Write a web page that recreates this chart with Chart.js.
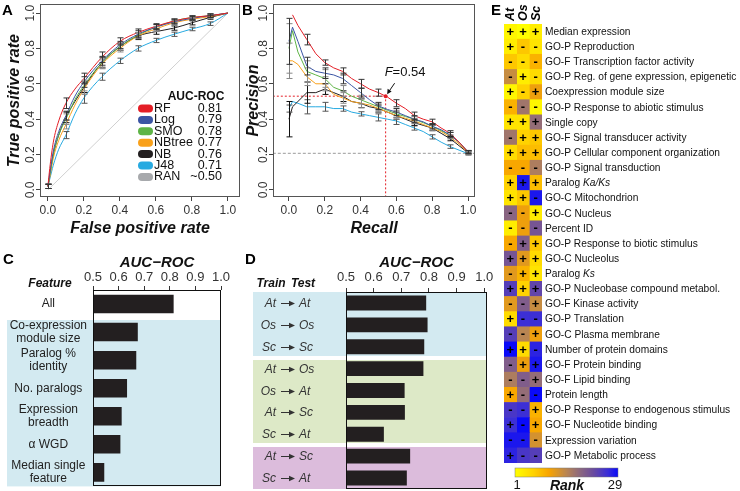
<!DOCTYPE html>
<html>
<head>
<meta charset="utf-8">
<title>Classifier performance</title>
<script src="https://cdn.jsdelivr.net/npm/chart.js@4.4.1/dist/chart.umd.min.js"></script>
<style>
  html, body { margin: 0; padding: 0; background: #fff; }
  #page { position: relative; width: 740px; height: 491px; overflow: hidden; }
  #page canvas { position: absolute; }
  .tag { position: absolute; font: bold 15px "Liberation Sans", Arial, sans-serif; line-height: 15px; color: #000; }
</style>
</head>
<body>
<div id="page">
  <canvas id="rocChart" width="245" height="240" style="left:0;top:0;width:245px;height:240px"></canvas>
  <canvas id="prChart" width="255" height="240" style="left:240px;top:0;width:255px;height:240px"></canvas>
  <canvas id="featChart" width="250" height="246" style="left:0;top:245px;width:250px;height:246px"></canvas>
  <canvas id="transferChart" width="250" height="246" style="left:250px;top:245px;width:250px;height:246px"></canvas>
  <canvas id="rankChart" width="245" height="491" style="left:495px;top:0;width:245px;height:491px"></canvas>
  <div class="tag" style="left:2px;top:2px">A</div>
  <div class="tag" style="left:242px;top:2px">B</div>
  <div class="tag" style="left:3px;top:251px">C</div>
  <div class="tag" style="left:245px;top:251px">D</div>
  <div class="tag" style="left:491px;top:2px">E</div>
</div>
<script>
var fam = '"Liberation Sans", Arial, Helvetica, sans-serif';

// ---- A: ROC curves ----
var modelNames = ['RF', 'Log', 'SMO', 'NBtree', 'NB', 'J48', 'RAN'];
var modelAuc = ['0.81', '0.79', '0.78', '0.77', '0.76', '0.71', '~0.50'];
var rateTicks = [0, 0.2, 0.4, 0.6, 0.8, 1.0];

var rocX = [0, 0.01, 0.03, 0.06, 0.1, 0.15, 0.2, 0.3, 0.4, 0.5, 0.6, 0.7, 0.8, 0.9, 1.0];
var rocRF = [0.02, 0.12, 0.27, 0.39, 0.49, 0.57, 0.63, 0.75, 0.84, 0.89, 0.925, 0.955, 0.975, 0.985, 1.0];
var rocLog = [0.02, 0.09, 0.22, 0.33, 0.42, 0.53, 0.61, 0.73, 0.82, 0.88, 0.92, 0.95, 0.97, 0.985, 1.0];
var rocSMO = [0.02, 0.08, 0.2, 0.31, 0.40, 0.51, 0.59, 0.72, 0.81, 0.875, 0.92, 0.955, 0.975, 0.985, 1.0];
var rocNBtree = [0.02, 0.07, 0.18, 0.28, 0.37, 0.48, 0.57, 0.71, 0.80, 0.87, 0.91, 0.945, 0.965, 0.98, 1.0];
var rocNB = [0.02, 0.08, 0.2, 0.31, 0.41, 0.5, 0.58, 0.72, 0.81, 0.87, 0.895, 0.915, 0.945, 0.975, 1.0];
var rocJ48 = [0.02, 0.06, 0.14, 0.23, 0.31, 0.43, 0.52, 0.64, 0.73, 0.80, 0.845, 0.88, 0.91, 0.94, 1.0];

var rocErrX = [0, 0.1, 0.2, 0.3, 0.4, 0.5, 0.6, 0.7, 0.8, 0.9];
var rocErrRF = [0.012, 0.03, 0.03, 0.03, 0.02, 0.02, 0.015, 0.012, 0.01, 0.01];
var rocErrLog = [0.012, 0.025, 0.03, 0.025, 0.02, 0.02, 0.015, 0.012, 0.01, 0.01];
var rocErrSMO = [0.012, 0.03, 0.03, 0.025, 0.02, 0.015, 0.015, 0.012, 0.01, 0.01];
var rocErrNBtree = [0.012, 0.025, 0.03, 0.025, 0.02, 0.015, 0.015, 0.012, 0.01, 0.01];
var rocErrNB = [0.012, 0.03, 0.03, 0.03, 0.02, 0.02, 0.015, 0.012, 0.012, 0.01];
var rocErrJ48 = [0.012, 0.02, 0.03, 0.02, 0.015, 0.015, 0.012, 0.012, 0.01, 0.01];

// ---- B: precision / recall ----
var prX = [0, 0.02, 0.05, 0.1, 0.15, 0.2, 0.25, 0.3, 0.35, 0.4, 0.45, 0.5, 0.55, 0.6, 0.65, 0.7, 0.75, 0.8, 0.85, 0.9, 0.95, 1.0];
var prRF = [null, 0.99, 0.93, 0.85, 0.77, 0.72, 0.69, 0.67, 0.63, 0.60, 0.57, 0.55, 0.525, 0.49, 0.46, 0.42, 0.40, 0.385, 0.35, 0.32, 0.27, 0.215];
var prLog = [0.84, 0.92, 0.84, 0.70, 0.67, 0.66, 0.65, 0.63, 0.59, 0.55, 0.51, 0.475, 0.455, 0.44, 0.42, 0.40, 0.385, 0.36, 0.34, 0.31, 0.27, 0.215];
var prSMO = [0.80, 0.90, 0.78, 0.67, 0.65, 0.63, 0.58, 0.56, 0.53, 0.51, 0.49, 0.47, 0.45, 0.43, 0.415, 0.40, 0.38, 0.36, 0.335, 0.31, 0.27, 0.215];
var prNBtree = [0.73, 0.73, 0.71, 0.64, 0.60, 0.60, 0.54, 0.52, 0.50, 0.49, 0.48, 0.46, 0.44, 0.42, 0.405, 0.39, 0.37, 0.35, 0.33, 0.30, 0.26, 0.21];
var prNB = [0.40, 0.47, 0.50, 0.55, 0.55, 0.57, 0.55, 0.53, 0.50, 0.49, 0.47, 0.46, 0.44, 0.42, 0.40, 0.38, 0.365, 0.35, 0.32, 0.29, 0.25, 0.21];
var prJ48 = [0.46, 0.50, 0.49, 0.47, 0.47, 0.47, 0.46, 0.46, 0.44, 0.43, 0.42, 0.41, 0.40, 0.39, 0.37, 0.35, 0.33, 0.30, 0.27, 0.245, 0.225, 0.205];

var prErrX = [0, 0.1, 0.2, 0.3, 0.4, 0.5, 0.6, 0.7, 0.8, 0.9, 1.0];
var prErrRF = [null, 0.03, 0.015, 0.02, 0.025, 0.02, 0.02, 0.02, 0.015, 0.015, 0.008];
var prErrLog = [0.13, 0.05, 0.03, 0.03, 0.025, 0.02, 0.02, 0.02, 0.015, 0.015, 0.008];
var prErrSMO = [0.14, 0.06, 0.05, 0.03, 0.025, 0.02, 0.02, 0.015, 0.015, 0.015, 0.008];
var prErrNBtree = [0.1, 0.05, 0.04, 0.03, 0.025, 0.02, 0.02, 0.015, 0.015, 0.012, 0.008];
var prErrNB = [0.1, 0.06, 0.03, 0.03, 0.025, 0.02, 0.02, 0.015, 0.015, 0.012, 0.008];
var prErrJ48 = [0.02, 0.04, 0.025, 0.015, 0.012, 0.02, 0.02, 0.012, 0.012, 0.01, 0.008];

var baseRate = 0.207;
var bestRecall = 0.54;
var bestPrecision = 0.53;
var bestF = 0.54;

// ---- C: single features ----
var featureLabels = [['All'], ['Co-expression', 'module size'], ['Paralog %', 'identity'], ['No. paralogs'],
  ['Expression', 'breadth'], ['\u03b1 WGD'], ['Median single', 'feature']];
var featureAuc = [0.815, 0.675, 0.669, 0.633, 0.612, 0.607, 0.544];
var aucTicks = [0.5, 0.6, 0.7, 0.8, 0.9, 1.0];

// ---- D: cross-species ----
var trainSp = ['At', 'Os', 'Sc', 'At', 'Os', 'At', 'Sc', 'At', 'Sc'];
var testSp = ['At', 'Os', 'Sc', 'Os', 'At', 'Sc', 'At', 'Sc', 'At'];
var transferAuc = [0.79, 0.795, 0.783, 0.78, 0.712, 0.713, 0.637, 0.732, 0.72];
var transferGroup = [0, 0, 0, 1, 1, 1, 1, 2, 2];

// ---- E: feature ranks ----
var species = ['At', 'Os', 'Sc'];
var featureNames = ['Median expression', 'GO-P Reproduction', 'GO-F Transcription factor activity',
  'GO-P Reg. of gene expression, epigenetic', 'Coexpression module size', 'GO-P Response to abiotic stimulus',
  'Single copy', 'GO-F Signal transducer activity', 'GO-P Cellular component organization',
  'GO-P Signal transduction', 'Paralog _Ka/Ks_', 'GO-C Mitochondrion', 'GO-C Nucleus', 'Percent ID',
  'GO-P Response to biotic stimulus', 'GO-C Nucleolus', 'Paralog _Ks_', 'GO-P Nucleobase compound metabol.',
  'GO-F Kinase activity', 'GO-P Translation', 'GO-C Plasma membrane', 'Number of protein domains',
  'GO-F Protein binding', 'GO-F Lipid binding', 'Protein length', 'GO-P Response to endogenous stimulus',
  'GO-F Nucleotide binding', 'Expression variation', 'GO-P Metabolic process'];
var rankAt = [2, 3, 7, 14, 2, 9, 4, 17, 5, 10, 6, 4, 19, 3, 10, 21, 12, 24, 12, 5, 24, 29, 20, 16, 10, 25, 26, 28, 27];
var rankOs = [1, 7, 5, 3, 6, 17, 4, 6, 8, 10, 28, 7, 11, 11, 20, 12, 9, 6, 20, 26, 15, 5, 11, 20, 18, 26, 29, 28, 25];
var rankSc = [3, 4, 9, 5, 11, 2, 18, 7, 8, 16, 8, 28, 3, 21, 7, 5, 4, 23, 14, 26, 11, 27, 28, 18, 29, 9, 10, 13, 24];
var signAt = '++--+-+-+-++---+-+-+-+--+-+-+';
var signOs = '+--+--+++-++--++++---++------';
var signSc = '+---+-+++-+-+-+++++-+-++-++--';
var rankMin = 1, rankMax = 29;

// styles
var modelColors = ['#E41E26', '#3B55A4', '#5EB446', '#F9A11B', '#231F20', '#27AAE1', '#A7A9AC'];
var errColors = ['#333', '#333', '#888', '#888', '#111', '#555'];
var groupFills = ['#D3EAF1', '#DDE9C7', '#DCBCDC'];
var rankStops = [[0, '#FFFF00'], [0.18, '#FFD200'], [0.33, '#F8A400'], [0.5, '#B98552'],
  [0.62, '#8F6A7C'], [0.76, '#6A4B9F'], [0.9, '#3A2DD8'], [1, '#0A0AF8']];

Chart.defaults.font.family = fam;
Chart.defaults.font.size = 12;
Chart.defaults.color = '#222';
Chart.defaults.animation = false;
Chart.defaults.responsive = false;
Chart.defaults.devicePixelRatio = 1;
Chart.defaults.plugins.legend.display = false;
Chart.defaults.plugins.tooltip.enabled = false;

function hexRgb(h) {
  return [parseInt(h.substr(1, 2), 16), parseInt(h.substr(3, 2), 16), parseInt(h.substr(5, 2), 16)];
}

function rankColor(r) {
  var t = (r - rankMin) / (rankMax - rankMin);
  for (var i = 1; i < rankStops.length; i++) {
    if (t <= rankStops[i][0]) {
      var a = rankStops[i - 1], b = rankStops[i];
      var f = (t - a[0]) / (b[0] - a[0]);
      var ca = hexRgb(a[1]), cb = hexRgb(b[1]);
      return 'rgb(' + ca.map(function (c, k) { return Math.round(c + (cb[k] - c) * f); }).join(',') + ')';
    }
  }
  return rankStops[rankStops.length - 1][1];
}

var boxPlugin = {
  id: 'box',
  afterDatasetsDraw: function (chart, args, opts) {
    var a = chart.chartArea, ctx = chart.ctx;
    ctx.save();
    ctx.strokeStyle = opts.color || '#000';
    ctx.lineWidth = 1;
    ctx.strokeRect(Math.round(a.left) + 0.5, Math.round(a.top) + 0.5,
      Math.round(a.right - a.left) - 1, Math.round(a.bottom - a.top) - 1);
    ctx.restore();
  }
};

var errorBarPlugin = {
  id: 'errorBars',
  afterDatasetsDraw: function (chart) {
    var ctx = chart.ctx, xs = chart.scales.x, ys = chart.scales.y;
    ctx.save();
    ctx.lineWidth = 1;
    chart.data.datasets.slice().reverse().forEach(function (ds) {
      if (!ds.err) return;
      ctx.strokeStyle = ds.errColor;
      ds.err.forEach(function (e, k) {
        if (e == null) return;
        var xv = ds.errX[k];
        var p = ds.data.find(function (d) { return Math.abs(d.x - xv) < 1e-9; });
        if (!p || p.y == null) return;
        var px = Math.round(xs.getPixelForValue(xv)) + 0.5;
        var t = ys.getPixelForValue(p.y + e), b = ys.getPixelForValue(p.y - e);
        ctx.beginPath();
        ctx.moveTo(px, t); ctx.lineTo(px, b);
        ctx.moveTo(px - 3, t); ctx.lineTo(px + 3, t);
        ctx.moveTo(px - 3, b); ctx.lineTo(px + 3, b);
        ctx.stroke();
      });
    });
    ctx.restore();
  }
};

var rocLegend = {
  id: 'rocLegend',
  afterDraw: function (chart) {
    var ctx = chart.ctx;
    ctx.save();
    ctx.fillStyle = '#111';
    ctx.font = 'bold 12px ' + fam;
    ctx.textAlign = 'center';
    ctx.textBaseline = 'middle';
    ctx.fillText('AUC-ROC', 196, 97);
    modelNames.forEach(function (name, i) {
      var y = 108.5 + i * 11.4;
      ctx.fillStyle = modelColors[i];
      ctx.beginPath();
      ctx.roundRect(138, y - 4, 15, 8, 4);
      ctx.fill();
      ctx.fillStyle = '#111';
      ctx.font = '12.5px ' + fam;
      ctx.textAlign = 'left';
      ctx.fillText(name, 154, y);
      ctx.textAlign = 'right';
      ctx.fillText(modelAuc[i], 222, y);
    });
    ctx.restore();
  }
};

var fMark = {
  id: 'fMark',
  afterDatasetsDraw: function (chart) {
    var ctx = chart.ctx;
    var px = chart.scales.x.getPixelForValue(bestRecall), py = chart.scales.y.getPixelForValue(bestPrecision);
    ctx.save();
    ctx.fillStyle = '#E41E26';
    ctx.beginPath();
    ctx.arc(px, py, 2, 0, Math.PI * 2);
    ctx.fill();
    // arrow pointing at the best F point
    ctx.strokeStyle = '#111';
    ctx.fillStyle = '#111';
    ctx.lineWidth = 1;
    ctx.beginPath();
    ctx.moveTo(px + 9, py - 13);
    ctx.lineTo(px + 3.5, py - 5);
    ctx.stroke();
    ctx.beginPath();
    ctx.moveTo(px + 1.5, py - 2);
    ctx.lineTo(px + 2, py - 7.5);
    ctx.lineTo(px + 6, py - 4.8);
    ctx.closePath();
    ctx.fill();
    ctx.textBaseline = 'middle';
    ctx.textAlign = 'left';
    ctx.font = 'italic 13px ' + fam;
    ctx.fillText('F', px - 1, py - 24);
    var w = ctx.measureText('F').width;
    ctx.font = '13px ' + fam;
    ctx.fillText('=' + bestF.toFixed(2), px - 1 + w, py - 24);
    ctx.restore();
  }
};

function rateAxis(min, max, title, size, vertical, titlePad) {
  var tickFmt = function (v) { return v.toFixed(1); };
  return {
    type: 'linear', min: min, max: max, bounds: 'data',
    afterBuildTicks: function (s) { s.ticks = rateTicks.map(function (v) { return { value: v }; }); },
    afterFit: function (s) { if (vertical) { s.width = size; } else { s.height = size; } },
    border: { display: false },
    grid: { drawOnChartArea: false, drawTicks: true, tickLength: 4, color: '#444' },
    ticks: vertical
      ? { autoSkip: false, minRotation: 90, maxRotation: 90, crossAlign: 'center', padding: -3, color: '#333', font: { size: 12 }, callback: tickFmt }
      : { autoSkip: false, maxRotation: 0, padding: 2, color: '#333', font: { size: 12 }, callback: tickFmt },
    title: { display: true, text: title, color: '#111', font: { size: 16, weight: 'bold', style: 'italic' },
      padding: vertical ? { top: titlePad } : { bottom: titlePad } }
  };
}

function curveSet(xs, ys, errX, err, i, smooth) {
  return {
    label: modelNames[i],
    data: ys.map(function (y, k) { return { x: xs[k], y: y }; }),
    errX: errX,
    err: err,
    errColor: errColors[i],
    borderColor: modelColors[i],
    borderWidth: 1,
    pointRadius: 0,
    fill: false,
    cubicInterpolationMode: smooth ? 'monotone' : 'default',
    tension: 0
  };
}

// A
var rocSeries = [rocRF, rocLog, rocSMO, rocNBtree, rocNB, rocJ48];
var rocErrs = [rocErrRF, rocErrLog, rocErrSMO, rocErrNBtree, rocErrNB, rocErrJ48];
new Chart(document.getElementById('rocChart'), {
  type: 'line',
  data: {
    datasets: rocSeries.map(function (ys, i) { return curveSet(rocX, ys, rocErrX, rocErrs[i], i, true); })
      .concat([{ label: 'RAN', data: [{ x: 0, y: 0 }, { x: 1, y: 1 }], borderColor: '#c4c4c4', borderWidth: 0.8, pointRadius: 0 }])
  },
  options: {
    layout: { padding: { left: 0, right: 5, top: 4, bottom: 0 } },
    scales: {
      x: rateAxis(-0.044, 1.067, 'False positive rate', 43, false, 1.5),
      y: rateAxis(-0.04, 1.05, 'True positive rate', 40, true, 5)
    },
    plugins: { box: { color: '#555' } }
  },
  plugins: [boxPlugin, errorBarPlugin, rocLegend]
});

// B
var prSeries = [prRF, prLog, prSMO, prNBtree, prNB, prJ48];
var prErrs = [prErrRF, prErrLog, prErrSMO, prErrNBtree, prErrNB, prErrJ48];
new Chart(document.getElementById('prChart'), {
  type: 'line',
  data: {
    datasets: prSeries.map(function (ys, i) { return curveSet(prX, ys, prErrX, prErrs[i], i, false); })
      .concat([
        { label: 'best F', data: [{ x: -0.09, y: bestPrecision }, { x: bestRecall, y: bestPrecision }, { x: bestRecall, y: -0.04 }],
          borderColor: '#E41E26', borderWidth: 1, borderDash: [2, 2], pointRadius: 0 },
        { label: 'baseline', data: [{ x: -0.09, y: baseRate }, { x: 1.04, y: baseRate }],
          borderColor: '#9a9a9a', borderWidth: 1, borderDash: [3, 2], pointRadius: 0 }
      ])
  },
  options: {
    layout: { padding: { left: 0, right: 20, top: 4, bottom: 0 } },
    scales: {
      x: rateAxis(-0.089, 1.039, 'Recall', 43, false, 1.5),
      y: rateAxis(-0.04, 1.05, 'Precision', 33, true, 3.5)
    },
    plugins: { box: { color: '#555' } }
  },
  plugins: [boxPlugin, errorBarPlugin, fMark]
});

function aucAxis(max, size, pad) {
  return {
    type: 'linear', position: 'top', min: 0.5, max: max, bounds: 'data',
    afterBuildTicks: function (s) { s.ticks = aucTicks.map(function (v) { return { value: v }; }); },
    afterFit: function (s) { s.height = size; },
    border: { display: false },
    grid: { drawOnChartArea: false, drawTicks: true, tickLength: 4, color: '#333' },
    ticks: { autoSkip: false, maxRotation: 0, padding: pad, color: '#333', font: { size: 13 },
      callback: function (v) { return v.toFixed(1); } },
    title: { display: true, text: 'AUC\u2212ROC', color: '#111', font: { size: 15, weight: 'bold', style: 'italic' }, padding: { top: 9 } }
  };
}

function rowBounds(ys, i) {
  var step = ys.getPixelForValue(1) - ys.getPixelForValue(0);
  var c = ys.getPixelForValue(i);
  return [Math.round(c - step / 2), Math.round(c + step / 2)];
}

// C
var featBand = {
  id: 'featBand',
  beforeDraw: function (chart) {
    var ctx = chart.ctx, a = chart.chartArea, ys = chart.scales.y;
    var top = rowBounds(ys, 1)[0] + 2;
    ctx.save();
    ctx.fillStyle = groupFills[0];
    ctx.fillRect(7, top, a.right - 7, a.bottom - top);
    ctx.restore();
  },
  afterDraw: function (chart) {
    var ctx = chart.ctx;
    ctx.save();
    ctx.fillStyle = '#111';
    ctx.font = 'bold italic 12px ' + fam;
    ctx.textAlign = 'center';
    ctx.textBaseline = 'middle';
    ctx.fillText('Feature', 50, 39);
    ctx.restore();
  }
};

new Chart(document.getElementById('featChart'), {
  type: 'bar',
  data: {
    labels: featureLabels,
    datasets: [{ data: featureAuc, base: 0.5, backgroundColor: '#231F20', barPercentage: 0.66, categoryPercentage: 1 }]
  },
  options: {
    indexAxis: 'y',
    layout: { padding: { left: 0, right: 29, top: 0, bottom: 4 } },
    scales: {
      x: aucAxis(1.0, 45, 1),
      y: { type: 'category', afterFit: function (s) { s.width = 93; }, grid: { display: false }, border: { display: false },
        ticks: { autoSkip: false, crossAlign: 'center', padding: -2, color: '#222', font: { size: 12, lineHeight: 1.1 } } }
    },
    plugins: { box: { color: '#111' } }
  },
  plugins: [featBand, boxPlugin]
});

// D
var transferBand = {
  id: 'transferBand',
  beforeDraw: function (chart) {
    var ctx = chart.ctx, a = chart.chartArea, ys = chart.scales.y;
    ctx.save();
    transferGroup.forEach(function (g, i) {
      var b = rowBounds(ys, i);
      var top = (i > 0 && transferGroup[i - 1] !== g) ? b[0] + 2 : b[0];
      var bot = (i < transferGroup.length - 1 && transferGroup[i + 1] !== g) ? b[1] - 2 : b[1];
      if (i === 0) top = a.top;
      if (i === transferGroup.length - 1) bot = a.bottom;
      ctx.fillStyle = groupFills[g];
      ctx.fillRect(3, top, a.right - 3, bot - top);
    });
    ctx.restore();
  },
  afterDraw: function (chart) {
    var ctx = chart.ctx, ys = chart.scales.y;
    ctx.save();
    ctx.textBaseline = 'middle';
    ctx.fillStyle = '#111';
    ctx.font = 'bold italic 12px ' + fam;
    ctx.textAlign = 'center';
    ctx.fillText('Train', 21, 39);
    ctx.fillText('Test', 53, 39);
    ctx.fillStyle = '#333';
    ctx.strokeStyle = '#333';
    ctx.lineWidth = 1;
    trainSp.forEach(function (sp, i) {
      var y = Math.round(ys.getPixelForValue(i)) + 0.5;
      ctx.font = 'italic 12px ' + fam;
      ctx.textAlign = 'right';
      ctx.fillText(sp, 26, y);
      ctx.textAlign = 'left';
      ctx.fillText(testSp[i], 49, y);
      ctx.beginPath();
      ctx.moveTo(31, y);
      ctx.lineTo(41, y);
      ctx.stroke();
      ctx.beginPath();
      ctx.moveTo(45, y);
      ctx.lineTo(39, y - 2.8);
      ctx.lineTo(39, y + 2.8);
      ctx.closePath();
      ctx.fill();
    });
    ctx.restore();
  }
};

new Chart(document.getElementById('transferChart'), {
  type: 'bar',
  data: {
    labels: trainSp.map(function (sp, i) { return sp + ' \u2192 ' + testSp[i]; }),
    datasets: [{ data: transferAuc, base: 0.5, backgroundColor: '#231F20', barPercentage: 0.68, categoryPercentage: 1 }]
  },
  options: {
    indexAxis: 'y',
    layout: { padding: { left: 96, right: 13, top: 0, bottom: 2 } },
    scales: {
      x: aucAxis(1.01, 47, 3),
      y: { type: 'category', display: false }
    },
    plugins: { box: { color: '#111' } }
  },
  plugins: [transferBand, boxPlugin]
});

// E
var heatText = {
  id: 'heatText',
  afterDatasetsDraw: function (chart) {
    var ctx = chart.ctx, a = chart.chartArea, ys = chart.scales.y;
    ctx.save();
    ctx.fillStyle = '#000';
    ctx.textAlign = 'center';
    ctx.textBaseline = 'middle';
    ctx.font = 'bold 13px ' + fam;
    chart.data.datasets.forEach(function (ds, j) {
      chart.getDatasetMeta(j).data.forEach(function (bar, i) {
        ctx.fillText(ds.signs[i], (bar.x + bar.base) / 2, bar.y + 0.5);
      });
      var first = chart.getDatasetMeta(j).data[0];
      ctx.save();
      ctx.translate((first.x + first.base) / 2 + 0.5, a.top - 3);
      ctx.rotate(-Math.PI / 2);
      ctx.textAlign = 'left';
      ctx.font = 'bold italic 12.5px ' + fam;
      ctx.fillText(ds.label, 0, 0);
      ctx.restore();
    });
    ctx.textAlign = 'left';
    ctx.fillStyle = '#111';
    featureNames.forEach(function (name, i) {
      var y = ys.getPixelForValue(i) + 0.5;
      var x = a.right + 3;
      name.split('_').forEach(function (part, k) {
        ctx.font = (k % 2 ? 'italic ' : '') + '10.2px ' + fam;
        ctx.fillText(part, x, y);
        x += ctx.measureText(part).width;
      });
    });
    // colour key
    var gx = a.left + 11, gy = a.bottom + 5, gw = 103, gh = 9;
    var grad = ctx.createLinearGradient(gx, 0, gx + gw, 0);
    rankStops.forEach(function (s) { grad.addColorStop(s[0], s[1]); });
    ctx.fillStyle = grad;
    ctx.fillRect(gx, gy, gw, gh);
    ctx.strokeStyle = '#777';
    ctx.lineWidth = 0.5;
    ctx.strokeRect(gx, gy, gw, gh);
    ctx.fillStyle = '#111';
    ctx.textAlign = 'center';
    ctx.font = '13px ' + fam;
    ctx.fillText(String(rankMin), gx + 2, gy + 17);
    ctx.fillText(String(rankMax), gx + gw - 3, gy + 17);
    ctx.font = 'bold italic 14px ' + fam;
    ctx.fillText('Rank', gx + 52, gy + 18);
    ctx.restore();
  }
};

var rankCols = [rankAt, rankOs, rankSc];
var signCols = [signAt, signOs, signSc];
new Chart(document.getElementById('rankChart'), {
  type: 'bar',
  data: {
    labels: featureNames,
    datasets: species.map(function (sp, j) {
      return {
        label: sp,
        data: featureNames.map(function () { return 1; }),
        backgroundColor: rankCols[j].map(rankColor),
        signs: signCols[j].split(''),
        borderWidth: 0,
        barPercentage: 1,
        categoryPercentage: 1
      };
    })
  },
  options: {
    indexAxis: 'y',
    layout: { padding: { left: 9, right: 198, top: 24, bottom: 28 } },
    scales: {
      x: { stacked: true, display: false, min: 0, max: 3 },
      y: { stacked: true, display: false }
    }
  },
  plugins: [heatText]
});
</script>
</body>
</html>
